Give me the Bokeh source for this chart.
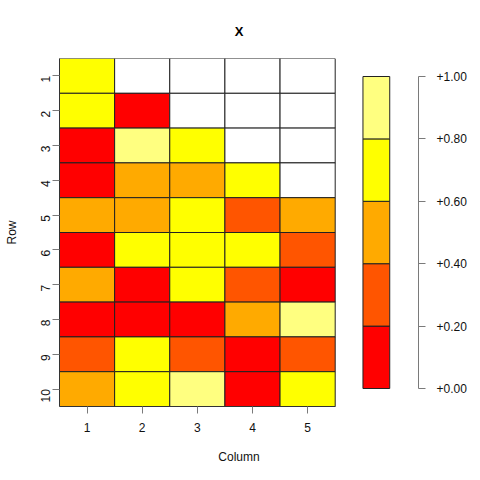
from bokeh.plotting import figure
from bokeh.models import (Range1d, FixedTicker, LinearColorMapper, ColumnDataSource,
                          PrintfTickFormatter, LinearAxis)
from bokeh.embed import file_html
from bokeh.resources import INLINE
from bokeh.transform import transform
import math

# ---- data (None = missing) ----
row_labels = [1, 2, 3, 4, 5, 6, 7, 8, 9, 10]
col_labels = [1, 2, 3, 4, 5]
values = [
    [0.70, None, None, None, None],
    [0.70, 0.10, None, None, None],
    [0.10, 0.90, 0.70, None, None],
    [0.10, 0.50, 0.50, 0.70, None],
    [0.50, 0.50, 0.70, 0.30, 0.50],
    [0.10, 0.70, 0.70, 0.70, 0.30],
    [0.50, 0.10, 0.70, 0.30, 0.10],
    [0.10, 0.10, 0.10, 0.50, 0.90],
    [0.30, 0.70, 0.30, 0.10, 0.30],
    [0.50, 0.70, 0.90, 0.10, 0.70],
]
palette = ["#FF0000", "#FF5500", "#FFAA00", "#FFFF00", "#FFFF80"]
breaks = [0.0, 0.2, 0.4, 0.6, 0.8, 1.0]
title_text = "X"
xlab = "Column"
ylab = "Row"

FONT = "Liberation Sans"
TICK_COL = "#7a7a7a"
TXT_COL = "#111111"

xs, ys, vs = [], [], []
for r, rv in zip(row_labels, values):
    for c, v in zip(col_labels, rv):
        xs.append(c)
        ys.append(r)
        vs.append(float("nan") if v is None else v)
src = ColumnDataSource(dict(x=xs, y=ys, v=vs))
mapper = LinearColorMapper(palette=palette, low=breaks[0], high=breaks[-1], nan_color="white")

# layout geometry (pixels): heatmap spans 278 px for 5 columns; key sits right of it
px_per_col = 278 / 5
x_end = 0.5 + 362 / px_per_col
key_left = 0.5 + 306 / px_per_col
key_right = 0.5 + 333 / px_per_col
key_pad = 18 / 312

p = figure(width=469, height=470, output_backend="svg", toolbar_location=None,
           x_range=Range1d(0.5, x_end), y_range=Range1d(10.5, 0.5),
           min_border_left=59, min_border_right=48, min_border_top=58, min_border_bottom=64,
           title=title_text)
p.extra_y_ranges = {"key": Range1d(breaks[0] - key_pad, breaks[-1] + key_pad)}

p.rect(x="x", y="y", width=1, height=1, source=src,
       fill_color=transform("v", mapper), line_color="#222222", line_width=1)
p.quad(left=key_left, right=key_right, bottom=breaks[:-1], top=breaks[1:],
       fill_color=palette, line_color="#222222", line_width=1, y_range_name="key")

p.xgrid.visible = False
p.ygrid.visible = False
p.outline_line_color = None
p.background_fill_color = "white"
p.border_fill_color = "white"

p.title.align = "center"
p.title.text_font = FONT
p.title.text_font_size = "13px"
p.title.text_font_style = "bold"
p.title.text_color = "black"
p.title.standoff = 39

ax_r = LinearAxis(y_range_name="key", bounds=(breaks[0], breaks[-1]))
p.add_layout(ax_r, "right")

for ax in (p.xaxis[0], p.yaxis[0], ax_r):
    ax.axis_line_color = TICK_COL
    ax.major_tick_line_color = TICK_COL
    ax.minor_tick_line_color = None
    ax.major_tick_out = 7
    ax.major_tick_in = 0
    ax.major_label_text_font = FONT
    ax.major_label_text_font_size = "12px"
    ax.major_label_text_color = TXT_COL
    ax.axis_label_text_font = FONT
    ax.axis_label_text_font_size = "12px"
    ax.axis_label_text_font_style = "normal"
    ax.axis_label_text_color = TXT_COL

xa = p.xaxis[0]
xa.ticker = FixedTicker(ticks=col_labels)
xa.bounds = (0.5, 5.5)
xa.axis_line_color = "#333333"
xa.major_label_standoff = 9
xa.axis_label = xlab
xa.axis_label_standoff = 15

ya = p.yaxis[0]
ya.ticker = FixedTicker(ticks=row_labels)
ya.axis_line_color = "#333333"
ya.major_label_standoff = 7
ya.major_label_orientation = math.pi / 2
ya.axis_label = ylab
ya.axis_label_standoff = 15

ax_r.ticker = FixedTicker(ticks=breaks)
ax_r.formatter = PrintfTickFormatter(format="%+.2f")
ax_r.major_label_standoff = 11

open("out.html", "w").write(file_html(p, INLINE))
